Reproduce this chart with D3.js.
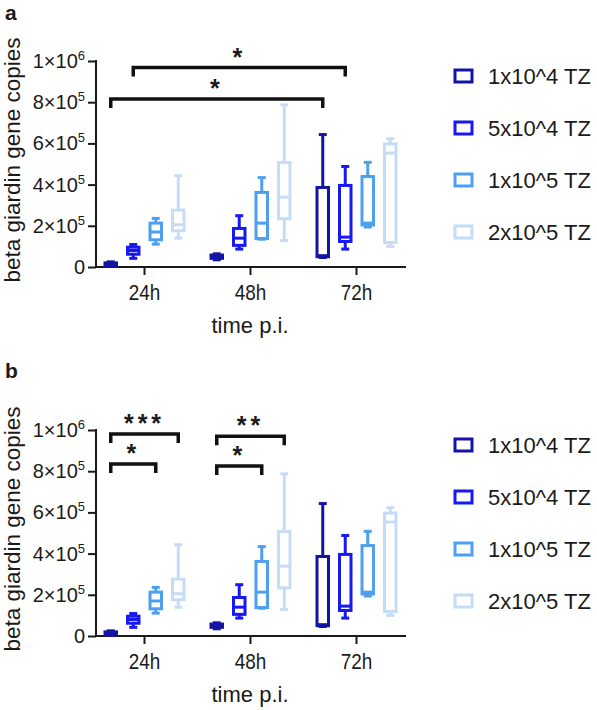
<!DOCTYPE html>
<html>
<head>
<meta charset="utf-8">
<script src="https://cdn.jsdelivr.net/npm/d3@7"></script>
<style>
  body { margin: 0; background: #fff; }
  text { font-family: "Liberation Sans", Arial, sans-serif; fill: #1a1a1a; }
</style>
</head>
<body>
<svg id="fig" width="597" height="710"></svg>
<script>
// groups on the x axis and the four inoculum doses
var groups = ["24h", "48h", "72h"];
var series = ["1x10^4 TZ", "5x10^4 TZ", "1x10^5 TZ", "2x10^5 TZ"];
var colors = ["#1414a4", "#1818f0", "#4f9ff0", "#c6dcf6"];

// box values per group: [min, q1, median, q3, max]
var tz1e4 = [[4000, 6000, 12000, 20000, 25000], [35000, 42000, 50000, 58000, 64000], [46000, 50000, 55000, 386000, 643000]];
var tz5e4 = [[42000, 62000, 80000, 96000, 109000], [87000, 105000, 140000, 187000, 249000], [87000, 124000, 145000, 396000, 488000]];
var tz1e5 = [[111000, 132000, 170000, 213000, 236000], [135000, 138000, 213000, 362000, 434000], [194000, 204000, 213000, 439000, 508000]];
var tz2e5 = [[140000, 176000, 205000, 276000, 443000], [129000, 234000, 339000, 507000, 787000], [100000, 119000, 553000, 597000, 623000]];
var boxData = [tz1e4, tz5e4, tz1e5, tz2e5];

var yTicks = [0, 200000, 400000, 600000, 800000, 1000000];
var yTickBase = ["0", "2×10", "4×10", "6×10", "8×10", "1×10"];
var yTickExp = ["", "5", "5", "5", "5", "6"];

// significance brackets: [group, series] to [group, series], height in data units
var compA = [
  { from: [0, 0], to: [2, 0], y: 816000, label: "*" },
  { from: [0, 1], to: [2, 1], y: 968000, label: "*" }
];
var compB = [
  { from: [0, 0], to: [0, 2], y: 835000, label: "*" },
  { from: [0, 0], to: [0, 3], y: 980000, label: "***" },
  { from: [1, 0], to: [1, 2], y: 825000, label: "*" },
  { from: [1, 0], to: [1, 3], y: 970000, label: "**" }
];

var svg = d3.select("#fig");

var x = d3.scaleBand().domain(groups).range([91.5, 409.5]);
var xs = d3.scaleBand().domain(series).range([-45, 45]);

function cx(g, s) {
  return x(groups[g]) + x.bandwidth() / 2 + xs(series[s]) + xs.bandwidth() / 2;
}

function drawPanel(top, letter, letterY, comps) {
  var y = d3.scaleLinear().domain([0, 1000000]).range([top + 206, top]);
  var base = top + 206;
  var p = svg.append("g");

  p.append("text").attr("x", 5).attr("y", letterY)
    .style("font-weight", "bold").style("font-size", "21px").text(letter);

  // y axis
  var ya = p.append("g").attr("transform", "translate(96,0)")
    .call(d3.axisLeft(y).tickValues(yTicks).tickSize(8).tickFormat(""));
  ya.selectAll("path, line").attr("stroke", "#1a1a1a").attr("stroke-width", 2);
  ya.select(".domain").attr("d", "M0," + (top - 1) + "V" + (base + 1));

  var yl = p.append("g").selectAll("text").data(yTicks).enter().append("text")
    .attr("x", 85).attr("y", function(d) { return y(d) + 7; })
    .attr("text-anchor", "end").style("font-size", "20px");
  yl.append("tspan").text(function(d, i) { return yTickBase[i]; });
  yl.append("tspan").attr("dy", -8).style("font-size", "13px").text(function(d, i) { return yTickExp[i]; });

  // x axis
  var xa = p.append("g").attr("transform", "translate(0," + base + ")")
    .call(d3.axisBottom(x).tickSize(8).tickFormat(""));
  xa.selectAll("path, line").attr("stroke", "#1a1a1a").attr("stroke-width", 2);
  xa.select(".domain").attr("d", "M95,0H406");

  p.selectAll(".xl").data(groups).enter().append("text")
    .attr("transform", function(d) {
      return "translate(" + (x(d) + x.bandwidth() / 2) + "," + (base + 33) + ") scale(0.86,1)";
    })
    .attr("text-anchor", "middle").style("font-size", "22px")
    .text(function(d) { return d; });

  p.append("text").attr("x", 250).attr("y", base + 66).attr("text-anchor", "middle")
    .style("font-size", "22px").text("time p.i.");

  p.append("text").attr("transform", "translate(20," + (top + 99) + ") rotate(-90)")
    .attr("text-anchor", "middle").style("font-size", "22.5px").text("beta giardin gene copies");

  // boxes
  boxData.forEach(function(vals, s) {
    var col = colors[s];
    var g = p.append("g").attr("stroke", col).attr("stroke-width", 3).attr("fill", "none");
    vals.forEach(function(v, gi) {
      var c = cx(gi, s);
      g.append("line").attr("x1", c).attr("x2", c).attr("y1", y(v[4])).attr("y2", y(v[3]));
      g.append("line").attr("x1", c).attr("x2", c).attr("y1", y(v[1])).attr("y2", y(v[0]));
      g.append("line").attr("x1", c - 4).attr("x2", c + 4).attr("y1", y(v[4])).attr("y2", y(v[4]));
      g.append("line").attr("x1", c - 4).attr("x2", c + 4).attr("y1", y(v[0])).attr("y2", y(v[0]));
      g.append("rect").attr("x", c - 5.75).attr("width", 11.5)
        .attr("y", y(v[3])).attr("height", y(v[1]) - y(v[3]));
      g.append("line").attr("x1", c - 5.75).attr("x2", c + 5.75).attr("y1", y(v[2])).attr("y2", y(v[2]));
    });
  });

  // brackets
  comps.forEach(function(cmp) {
    var x1 = cx(cmp.from[0], cmp.from[1]);
    var x2 = cx(cmp.to[0], cmp.to[1]);
    var yy = y(cmp.y);
    p.append("path").attr("d", "M" + x1 + "," + (yy + 9) + "V" + yy + "H" + x2 + "V" + (yy + 9))
      .attr("fill", "none").attr("stroke", "#111").attr("stroke-width", 3.5);
    p.append("text").attr("x", (x1 + x2) / 2).attr("y", yy - 2).attr("text-anchor", "middle")
      .style("font-size", "25px").style("font-weight", "bold").style("letter-spacing", "4px")
      .text(cmp.label);
  });

  // legend
  var lg = p.append("g").selectAll("g").data(series).enter().append("g")
    .attr("transform", function(d, i) { return "translate(455," + (top + 15 + i * 52) + ")"; });
  lg.append("rect").attr("x", 0).attr("y", -6).attr("width", 17).attr("height", 12)
    .attr("fill", "none").attr("stroke-width", 3).attr("stroke", function(d, i) { return colors[i]; });
  lg.append("text").attr("x", 33).attr("y", 8).style("font-size", "22px").text(function(d) { return d; });
}

drawPanel(61, "a", 20, compA);
drawPanel(430, "b", 378, compB);
</script>
</body>
</html>
